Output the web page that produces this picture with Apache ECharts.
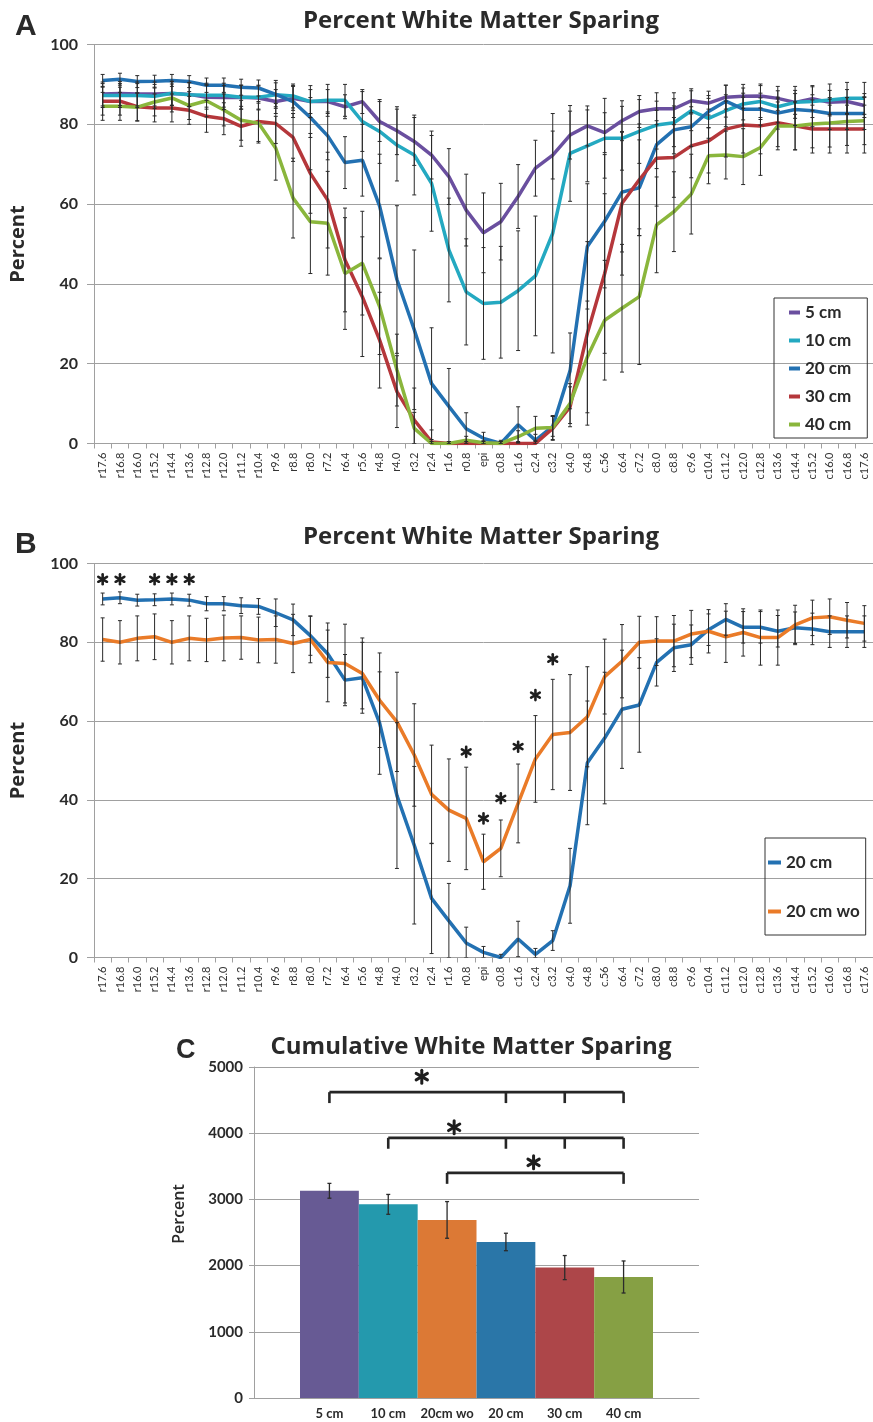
<!DOCTYPE html>
<html>
<head>
<meta charset="utf-8">
<script src="https://cdn.jsdelivr.net/npm/echarts@6.0.0/dist/echarts.min.js"></script>
<style>
  html, body { margin: 0; padding: 0; background: #fff; }
  #chart { width: 873px; height: 1422px; }
</style>
</head>
<body>
<div id="chart"></div>
<script>
// ---- Section positions along the cord (rostral r..., epicenter, caudal c...) ----
const positions = ['r17.6','r16.8','r16.0','r15.2','r14.4','r13.6','r12.8','r12.0','r11.2','r10.4',
  'r9.6','r8.8','r8.0','r7.2','r6.4','r5.6','r4.8','r4.0','r3.2','r2.4','r1.6','r0.8','epi',
  'c0.8','c1.6','c2.4','c3.2','c4.0','c4.8','c.56','c6.4','c7.2','c8.0','c8.8','c9.6','c10.4',
  'c11.2','c12.0','c12.8','c13.6','c14.4','c15.2','c16.0','c16.8','c17.6'];

// ---- Percent white matter sparing per section (mean) ----
const cm5 = [87.6,87.7,87.6,87.6,87.7,87.5,86.8,86.7,86.8,86.6,85.7,86.5,85.7,85.7,84.4,85.7,80.7,78.4,75.7,72.3,66.9,58.5,
  52.8,55.6,61.9,69.0,72.3,77.3,79.6,77.9,80.9,83.2,83.9,83.9,85.9,85.3,86.8,87.0,87.1,86.5,85.5,86.4,85.5,85.7,84.7];
const cm10 = [87.2,87.2,87.2,87.0,87.8,87.4,87.3,87.3,86.8,86.8,87.4,87.1,85.7,86.0,86.0,80.7,78.2,74.8,72.3,65.2,48.5,38.0,
  35.1,35.4,38.3,42.0,52.7,72.7,74.6,76.5,76.5,78.2,79.8,80.4,83.4,81.5,83.4,85.1,85.7,84.4,85.5,85.7,86.1,86.5,86.5];
const cm20 = [91.0,91.3,90.7,90.8,91.0,90.7,89.8,89.8,89.3,89.1,87.5,85.7,81.7,77.1,70.4,71.0,59.5,41.1,28.5,15.0,9.3,3.7,
  1.3,0,4.7,0.8,4.3,18.2,49.4,55.7,63.0,64.1,74.9,78.6,79.4,83.2,85.8,83.8,83.8,82.8,83.7,83.4,82.7,82.7,82.7];
const cm30 = [85.8,85.8,84.4,84.1,84.1,83.5,82.0,81.4,79.5,80.7,80.2,76.7,67.7,61.0,46.0,36.8,25.9,13.0,5.9,0.4,0,0,
  0,0,0,0,3.8,9.2,27.6,42.6,60.2,66.1,71.5,71.7,74.6,75.8,78.8,79.8,79.6,80.4,79.6,78.8,78.8,78.8,78.8];
const cm40 = [84.5,84.5,84.3,85.6,86.6,84.7,85.9,83.6,81.0,80.3,74.0,61.5,55.6,55.2,42.6,45.2,34.3,18.4,3.8,0,0,0.8,
  0.2,0,1.7,3.8,4.0,10.0,21.7,30.9,33.9,36.8,54.8,58.1,62.5,72.1,72.3,71.9,74.2,79.6,79.6,80.1,80.3,80.7,80.9];
const cm20wo = [80.7,80.0,81.0,81.4,80.0,81.0,80.6,81.1,81.2,80.6,80.7,79.7,80.7,74.9,74.6,72.1,65.3,59.8,51.4,41.4,37.4,35.3,
  24.3,27.7,39.1,50.4,56.6,57.1,61.1,71.3,75.2,80.0,80.3,80.3,82.1,82.8,81.4,82.5,81.2,81.2,84.4,86.2,86.5,85.6,84.8];

// ---- Error (half-length of each error bar) ----
const err5 = [3,3,3,3,3,3,3,3,3,3,3,3,3,3,3,3,5,6,6,6,7,9,
  10,9.6,8,7,6,6,5,5,5,4,4,4,3,3,3,3,3,3,3,3,3,3,3];
const err10 = [3,3,3,3,3,3,3,3,3,3,3,3,4,4,4,7.5,8,9,10,12,13,13.3,
  14,14,15,15,30,12,9,10,8,8,6,6,5,5,4,4,4,4,4,4,4,4,4];
const err20 = [1.5,1.5,1.5,1.5,1.5,1.5,1.8,1.8,2,2,3.5,4,5,6,6.5,9,13,18.5,20,14,9.5,4,
  1.5,0.8,4.5,1.5,2.5,9.5,15.7,16.7,15,12,6,6,5,4,4,4,4,4,4,4,4,4,4];
const err30 = [3.5,3.5,3.5,3.5,3.5,3.5,4,4,5,5,5,6,10,12,13,15,12,9,8,3,0.5,0.5,
  0.5,0.5,0.5,0.5,3,5,23,20,18,14,12,10,8,8,7,7,7,6,6,6,6,6,6];
const err40 = [3.5,3.5,3.5,3.5,3.5,3.5,4,4,5,5,8,10,13,13,14,13,12,9,4,0.5,0.5,1,
  0.5,0.5,1.5,3,3,5,14,15,16,17,12,10,10,7,6,7,7,6,6,6,6,6,6];
const err20wo = [5.5,5.5,5.7,5.8,5.5,5.7,5.5,5.8,5.5,5.8,6,7.4,5.9,10,10,9,12,12.6,13,12.5,13,13,
  7,7.2,10,11,14,14.7,12.7,9.5,9.3,6.6,6.2,6.5,6,5.5,6.5,6,7,7,5,4.5,4.5,4.5,4.5];

// ---- Significance markers for 20 cm vs 20 cm wo ----
const sigPositions = ['r17.6','r16.8','r15.2','r14.4','r13.6','r0.8','epi','c0.8','c1.6','c2.4','c3.2'];
const sigLevels = [96,96,96,96,96,52.2,35.3,40.4,53.5,66.6,75.7];

// ---- Cumulative sparing ----
const groups = ['5 cm','10 cm','20cm wo','20 cm','30 cm','40 cm'];
const cumulative = [3130, 2925, 2690, 2357, 1970, 1828];
const cumulativeErr = [112, 150, 277, 132, 182, 242];
const groupColors = ['#675a94','#2499ad','#dc7935','#2a76a8','#ad4649','#86a044'];

// Comparison brackets: the groups each bracket drops down to, and its height
const bracketGroups = [['5 cm','20 cm','30 cm','40 cm'], ['10 cm','20 cm','30 cm','40 cm'], ['20cm wo','40 cm']];
const bracketLevels = [4620, 3930, 3400];
// Star marks above the brackets (fractional group index, value)
const bracketStarX = [1.57, 2.12, 3.47];
const bracketStarY = [4854, 4089, 3560];

const FONT = 'Lato';
const TITLE_FONT = 'Open Sans';
const C_TEXT = '#2a2a2a';
const C_GRID = '#a0a0a0';
const LINE_COLORS = { '5 cm': '#6a4f9f', '10 cm': '#24a9c1', '20 cm': '#2371b2', '30 cm': '#b5373b', '40 cm': '#8ab63c', '20 cm wo': '#ea7b28' };

function errData(vals, errs) {
  return vals.map((v, i) => [i, Math.max(0, v - errs[i]), v + errs[i]]);
}

function errorBarSeries(vals, errs, gridIdx, cap, width) {
  return {
    type: 'custom', xAxisIndex: gridIdx, yAxisIndex: gridIdx, silent: true, z: 4,
    clip: true,
    data: errData(vals, errs),
    renderItem: function (params, api) {
      const x = api.value(0);
      const top = api.coord([x, api.value(2)]);
      const bot = api.coord([x, api.value(1)]);
      const st = { stroke: '#2b2b2b', lineWidth: width };
      return { type: 'group', children: [
        { type: 'line', shape: { x1: top[0], y1: top[1], x2: bot[0], y2: bot[1] }, style: st },
        { type: 'line', shape: { x1: top[0] - cap, y1: top[1], x2: top[0] + cap, y2: top[1] }, style: st },
        { type: 'line', shape: { x1: bot[0] - cap, y1: bot[1], x2: bot[0] + cap, y2: bot[1] }, style: st }
      ] };
    }
  };
}

// six-armed asterisk centred on a point
function asterisk(cx, cy, r, w) {
  const kids = [];
  [90, 30, -30].forEach(a => {
    const rad = a * Math.PI / 180;
    const dx = Math.cos(rad) * r, dy = Math.sin(rad) * r;
    kids.push({ type: 'line', shape: { x1: cx - dx, y1: cy - dy, x2: cx + dx, y2: cy + dy },
      style: { stroke: '#1e1e1e', lineWidth: w, lineCap: 'round' } });
  });
  return kids;
}

function lineSeries(name, vals, gridIdx) {
  return {
    name: name, type: 'line', xAxisIndex: gridIdx, yAxisIndex: gridIdx,
    data: vals, symbol: 'none', color: LINE_COLORS[name],
    lineStyle: { width: 3.5, color: LINE_COLORS[name] }, z: 3, silent: true
  };
}

function cordXAxis(gridIdx) {
  return {
    type: 'category', gridIndex: gridIdx, data: positions,
    axisLine: { lineStyle: { color: C_GRID, width: 1 } },
    axisTick: { show: true, length: 5, lineStyle: { color: C_GRID } },
    axisLabel: { interval: 0, rotate: 90, fontSize: 11, fontFamily: FONT, color: '#333', margin: 9 }
  };
}

function percentYAxis(gridIdx) {
  return {
    type: 'value', gridIndex: gridIdx, min: 0, max: 100, interval: 20,
    name: 'Percent', nameLocation: 'middle', nameGap: 66,
    nameTextStyle: { fontSize: 20, fontWeight: 'bold', fontFamily: TITLE_FONT, color: C_TEXT },
    axisLine: { show: true, lineStyle: { color: C_GRID } },
    axisTick: { show: true, length: 7, lineStyle: { color: C_GRID } },
    splitLine: { lineStyle: { color: C_GRID, width: 1 } },
    axisLabel: { fontSize: 16, fontWeight: 'bold', fontFamily: FONT, color: C_TEXT, margin: 16 }
  };
}

const chart = echarts.init(document.getElementById('chart'), null, { renderer: 'canvas' });

const option = {
  backgroundColor: '#fff',
  animation: false,
  title: [
    { text: 'A', left: 10, top: 7, textStyle: { fontSize: 30, fontWeight: 'bold', fontFamily: 'Liberation Sans', color: C_TEXT } },
    { text: 'Percent White Matter Sparing', left: 476, top: 4, textAlign: 'center',
      textStyle: { fontSize: 24, fontWeight: 'bold', fontFamily: TITLE_FONT, color: C_TEXT } },
    { text: 'B', left: 10, top: 525, textStyle: { fontSize: 30, fontWeight: 'bold', fontFamily: 'Liberation Sans', color: C_TEXT } },
    { text: 'Percent White Matter Sparing', left: 476, top: 520, textAlign: 'center',
      textStyle: { fontSize: 24, fontWeight: 'bold', fontFamily: TITLE_FONT, color: C_TEXT } },
    { text: 'C', left: 171, top: 1032, textStyle: { fontSize: 27, fontWeight: 'bold', fontFamily: 'Liberation Sans', color: C_TEXT } },
    { text: 'Cumulative White Matter Sparing', left: 466, top: 1030, textAlign: 'center',
      textStyle: { fontSize: 24, fontWeight: 'bold', fontFamily: TITLE_FONT, color: C_TEXT } }
  ],
  legend: [
    {
      data: ['5 cm', '10 cm', '20 cm', '30 cm', '40 cm'], orient: 'vertical',
      left: 774, top: 298, icon: 'rect', itemWidth: 11, itemHeight: 4, itemGap: 11,
      padding: [6, 16, 5, 15], borderColor: '#333', borderWidth: 1,
      selectedMode: false,
      textStyle: { fontSize: 17, fontWeight: 'bold', fontFamily: FONT, color: C_TEXT }
    },
    {
      data: ['20 cm', '20 cm wo'], orient: 'vertical',
      left: 765, top: 838, icon: 'rect', itemWidth: 13, itemHeight: 4, itemGap: 32,
      padding: [16, 6, 15, 3], borderColor: '#333', borderWidth: 1,
      selectedMode: false,
      textStyle: { fontSize: 17, fontWeight: 'bold', fontFamily: FONT, color: C_TEXT }
    }
  ],
  grid: [
    { left: 88.5, top: 44.5, width: 787.5, height: 399 },
    { left: 88.5, top: 563.5, width: 787.5, height: 394 },
    { left: 254, top: 1067, width: 445, height: 331 },
    { left: 300, top: 1067, width: 353, height: 331 }
  ],
  xAxis: [
    cordXAxis(0),
    cordXAxis(1),
    { type: 'category', gridIndex: 2, data: [''],
      axisLine: { lineStyle: { color: C_GRID } }, axisTick: { show: false }, axisLabel: { show: false } },
    { type: 'category', gridIndex: 3, data: groups,
      axisLine: { show: false }, axisTick: { show: false },
      axisLabel: { interval: 0, fontSize: 13, fontWeight: 'bold', fontFamily: FONT, color: C_TEXT, margin: 9 } }
  ],
  yAxis: [
    percentYAxis(0),
    percentYAxis(1),
    { type: 'value', gridIndex: 2, min: 0, max: 5000, interval: 1000,
      axisLine: { show: true, lineStyle: { color: C_GRID } },
      axisTick: { show: true, length: 5, lineStyle: { color: C_GRID } },
      splitLine: { lineStyle: { color: C_GRID, width: 1 } },
      axisLabel: { fontSize: 15, fontWeight: 'bold', fontFamily: FONT, color: C_TEXT, margin: 11,
        formatter: v => String(v) } },
    { type: 'value', gridIndex: 3, min: 0, max: 5000, interval: 1000, show: false }
  ],
  graphic: [
    { type: 'text', x: 179, y: 1214, rotation: Math.PI / 2,
      style: { text: 'Percent', fontSize: 16, fontWeight: 600, fontFamily: TITLE_FONT, fill: C_TEXT,
        textAlign: 'center', textVerticalAlign: 'middle' } }
  ],
  series: [
    // Panel A
    lineSeries('5 cm', cm5, 0),
    lineSeries('10 cm', cm10, 0),
    lineSeries('20 cm', cm20, 0),
    lineSeries('30 cm', cm30, 0),
    lineSeries('40 cm', cm40, 0),
    errorBarSeries(cm5, err5, 0, 2, 1),
    errorBarSeries(cm10, err10, 0, 2, 1),
    errorBarSeries(cm20, err20, 0, 2, 1),
    errorBarSeries(cm30, err30, 0, 2, 1),
    errorBarSeries(cm40, err40, 0, 2, 1),
    // Panel B
    lineSeries('20 cm', cm20, 1),
    lineSeries('20 cm wo', cm20wo, 1),
    errorBarSeries(cm20, err20, 1, 2, 1),
    errorBarSeries(cm20wo, err20wo, 1, 2, 1),
    {
      type: 'custom', xAxisIndex: 1, yAxisIndex: 1, silent: true, z: 5,
      data: sigPositions.map((p, i) => [positions.indexOf(p), sigLevels[i]]),
      renderItem: function (params, api) {
        const pt = api.coord([api.value(0), api.value(1)]);
        return { type: 'group', children: asterisk(pt[0], pt[1], 5, 2.6) };
      }
    },
    // Panel C
    {
      type: 'bar', xAxisIndex: 3, yAxisIndex: 3, barCategoryGap: 0, silent: true,
      data: cumulative.map((v, i) => ({ value: v, itemStyle: { color: groupColors[i] } }))
    },
    errorBarSeries(cumulative, cumulativeErr, 3, 2, 1.3),
    {
      type: 'custom', xAxisIndex: 3, yAxisIndex: 3, silent: true, z: 5,
      data: bracketLevels.map((lv, i) => [i, lv]),
      renderItem: function (params, api) {
        const b = api.value(0), lv = api.value(1);
        const idx = bracketGroups[b].map(g => groups.indexOf(g));
        const drop = 165;
        const st = { stroke: '#262626', lineWidth: 2.6 };
        const kids = [];
        const a = api.coord([idx[0], lv]), z = api.coord([idx[idx.length - 1], lv]);
        kids.push({ type: 'line', shape: { x1: a[0], y1: a[1], x2: z[0], y2: z[1] }, style: st });
        idx.forEach(k => {
          const p = api.coord([k, lv]), q = api.coord([k, lv - drop]);
          kids.push({ type: 'line', shape: { x1: p[0], y1: p[1], x2: q[0], y2: q[1] }, style: st });
        });
        return { type: 'group', children: kids };
      }
    },
    {
      type: 'custom', xAxisIndex: 3, yAxisIndex: 3, silent: true, z: 5,
      data: bracketStarX.map((x, i) => [x, bracketStarY[i]]),
      renderItem: function (params, api) {
        const fx = api.value(0), v = api.value(1);
        const k0 = Math.floor(fx), t = fx - k0;
        const p0 = api.coord([k0, v]), p1 = api.coord([k0 + 1, v]);
        const cx = p0[0] + (p1[0] - p0[0]) * t;
        return { type: 'group', children: asterisk(cx, p0[1], 6.5, 3) };
      }
    }
  ]
};

chart.setOption(option);
</script>
</body>
</html>
